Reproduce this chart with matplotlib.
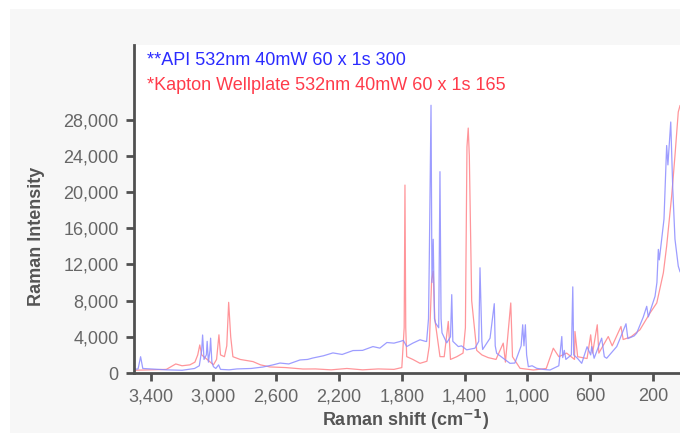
import matplotlib
matplotlib.use("Agg")
from matplotlib import pyplot as plt
from matplotlib.patches import Rectangle
from matplotlib.ticker import FuncFormatter
import numpy as np

plt.rcParams["font.family"] = ["Liberation Sans", "DejaVu Sans"]

# API spectrum (Raman shift cm-1, intensity)
api_shift = [3513, 3480, 3464, 3450, 3400, 3300, 3200, 3120, 3090, 3075, 3069, 3060,
             3045, 3040, 3032, 3022, 3018, 3010, 3000, 2985, 2967, 2955, 2900, 2850,
             2760, 2685, 2620, 2576, 2520, 2449, 2400, 2366, 2300, 2239, 2180, 2111,
             2050, 1984, 1940, 1895, 1850, 1812, 1790, 1769, 1730, 1684, 1650, 1642,
             1630, 1625, 1614, 1608, 1600, 1592, 1585, 1565, 1557, 1550, 1544, 1514,
             1490, 1482, 1475, 1440, 1420, 1387, 1334, 1310, 1302, 1290, 1285, 1238,
             1211, 1205, 1196, 1154, 1111, 1080, 1040, 1030, 1022, 1013, 1005, 994,
             970, 941, 900, 856, 800, 781, 775, 765, 755, 720, 711, 705, 680, 654,
             620, 597, 590, 575, 527, 510, 495, 431, 410, 372, 360, 320, 304, 262,
             240, 230, 187, 175, 166, 160, 130, 113, 105, 87, 74, 60, 39, 28]
api_int = [400, 450, 1800, 500, 450, 350, 300, 500, 800, 2500, 4200, 1500,
           2000, 3500, 1200, 2500, 3850, 1200, 700, 500, 900, 400, 350, 450,
           500, 660, 900, 1100, 1000, 1440, 1500, 1660, 1900, 2220, 2050, 2480,
           2500, 2920, 2750, 3370, 3300, 3480, 3600, 2920, 3300, 3670, 3500, 3480,
           6000, 12550, 29590, 10000, 14780, 6000, 5520, 5000, 22250, 6000, 4440, 3330,
           4000, 8660, 3500, 2920, 3000, 2560, 2740, 3500, 11630, 3500, 2600, 3850,
           7660, 3000, 2180, 1630, 1070, 1100, 3000, 5330, 3000, 5330, 2000, 700,
           800, 520, 400, 330, 800, 4030, 1700, 2500, 1500, 2000, 9520, 2000, 1600, 1070,
           2900, 2000, 2920, 1630, 3850, 1800, 1630, 2920, 3800, 5440, 3800, 4100, 4400, 6180,
           7370, 6200, 8480, 10000, 13660, 12500, 17000, 25140, 23000, 27740, 20330, 14780, 11810, 11200]

# Kapton wellplate spectrum
kapton_shift = [3513, 3400, 3300, 3240, 3200, 3150, 3118, 3100, 3087, 3075, 3040, 3000,
                2980, 2965, 2955, 2930, 2915, 2903, 2890, 2876, 2830, 2748, 2700, 2640,
                2540, 2430, 2350, 2250, 2150, 2050, 1950, 1850, 1800, 1785, 1780, 1775,
                1769, 1730, 1684, 1640, 1625, 1610, 1600, 1590, 1557, 1530, 1504, 1490,
                1450, 1410, 1395, 1385, 1377, 1370, 1355, 1323, 1290, 1250, 1200, 1154,
                1140, 1106, 1095, 1047, 962, 880, 835, 800, 750, 700, 697, 680, 620,
                597, 585, 555, 545, 485, 460, 404, 390, 340, 283, 219, 176, 134, 113,
                81, 60, 39, 28]
kapton_int = [300, 350, 400, 1000, 800, 900, 1200, 2000, 3100, 2000, 1500, 900,
              1500, 4220, 2000, 1800, 3000, 7810, 4000, 1800, 1500, 1260, 900, 670,
              600, 440, 450, 350, 500, 350, 450, 400, 600, 5000, 20770, 5000,
              1810, 1500, 1070, 1300, 3000, 10330, 11250, 6000, 1810, 1800, 5700, 1500,
              1800, 2200, 5000, 25000, 27070, 24000, 8000, 2500, 2000, 1700, 1500, 3300,
              1200, 7740, 1800, 520, 330, 500, 2740, 1800, 2200, 1500, 4590, 1800, 1600,
              4220, 2200, 5330, 2200, 4030, 3000, 5140, 3700, 4000, 4780, 6630, 7740, 11070, 14030,
              19590, 24030, 28850, 29550]

x_ticks = [3400, 3000, 2600, 2200, 1800, 1400, 1000, 600, 200]
y_ticks = [0, 4000, 8000, 12000, 16000, 20000, 24000, 28000]

API_LABEL = "**API 532nm 40mW 60 x 1s 300"
KAPTON_LABEL = "*Kapton Wellplate 532nm 40mW 60 x 1s 165"

fig = plt.figure(figsize=(6.8, 4.33), dpi=100)
fig.patch.set_facecolor("white")
# grey card behind the chart
fig.add_artist(Rectangle((10 / 680, 0), 1, 1 - 9 / 433, transform=fig.transFigure,
                         facecolor="#f7f7f7", edgecolor="none", zorder=-10))

ax = fig.add_axes([134 / 680, 1 - 373 / 433, 546 / 680, 328 / 433])
ax.set_facecolor("white")

ax.plot(kapton_shift, kapton_int, color="#ff8a8f", lw=0.9, alpha=0.9)
ax.plot(api_shift, api_int, color="#8c8cff", lw=0.9, alpha=0.85)

ax.set_xlim(3506, 28)
ax.set_ylim(0, 36250)
ax.set_xticks(x_ticks)
ax.set_yticks(y_ticks)
fmt = FuncFormatter(lambda v, p: f"{int(v):,}")
ax.xaxis.set_major_formatter(fmt)
ax.yaxis.set_major_formatter(fmt)

for side in ("top", "right"):
    ax.spines[side].set_visible(False)
for side in ("left", "bottom"):
    ax.spines[side].set_color("#505050")
    ax.spines[side].set_linewidth(2)
ax.tick_params(length=6, width=2, color="#505050", labelsize=13,
               labelcolor="#666666", pad=5)

ax.text(0.024, 0.954, API_LABEL, transform=ax.transAxes, color="#2b2bff",
        fontsize=13, va="center", ha="left")
ax.text(0.024, 0.875, KAPTON_LABEL, transform=ax.transAxes, color="#ff3b4a",
        fontsize=13, va="center", ha="left")

fig.text(0.596, 0.029, r"Raman shift (cm$^{\mathbf{-1}}$)", ha="center", va="center",
         fontsize=13, fontweight="bold", color="#555555")
fig.text(0.054, 0.453, "Raman Intensity", ha="center", va="center", rotation=90,
         fontsize=13, fontweight="bold", color="#555555")

fig.savefig("out.png", dpi=100, facecolor=fig.get_facecolor())
